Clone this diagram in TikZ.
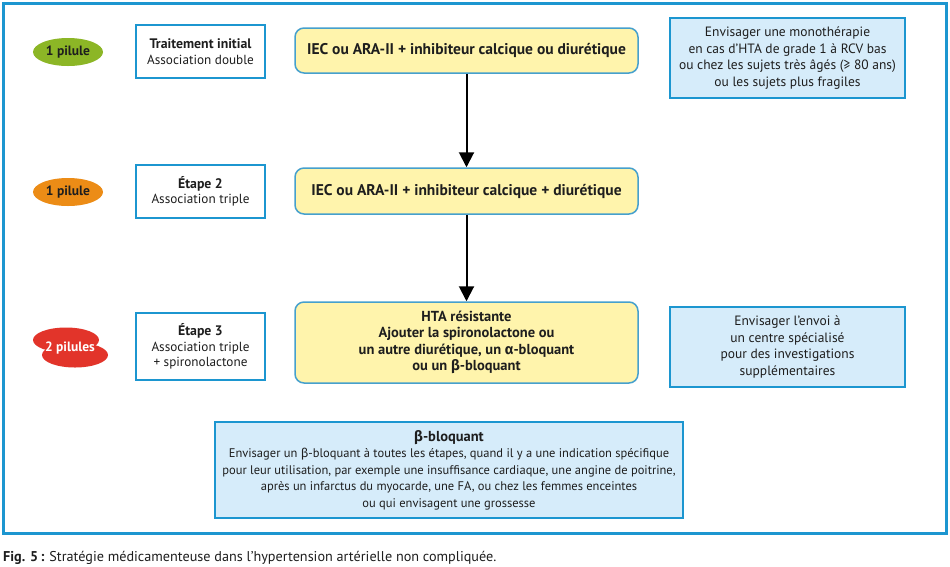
\documentclass[tikz,border=0pt]{standalone}
\usepackage{fontspec}
\setmainfont{PT Sans}
\newfontfamily\grk{Fira Sans}
\usetikzlibrary{shapes.geometric,arrows.meta}
\definecolor{frameblue}{RGB}{28,150,208}
\definecolor{drugedge}{RGB}{70,160,205}
\definecolor{lightblue}{RGB}{214,236,250}
\definecolor{paleyellow}{RGB}{255,244,172}
\definecolor{pillgreen}{RGB}{140,182,38}
\definecolor{pillorange}{RGB}{236,140,22}
\definecolor{pillred}{RGB}{226,52,42}
\definecolor{txt}{RGB}{30,30,30}
\tikzset{
  stagebox/.style={draw=frameblue,line width=2pt,fill=white,minimum width=129pt,align=center,text=txt,font=\fontsize{13.2}{15.5}\selectfont,inner sep=0pt},
  stagetitle/.style={},
  drugbox/.style={draw=drugedge,line width=1.5pt,fill=paleyellow,rounded corners=9pt,minimum width=343pt,align=center,text=txt,font=\bfseries\fontsize{15.5}{16.5}\selectfont,inner sep=0pt},
  notebox/.style={draw=frameblue,line width=2pt,fill=lightblue,align=center,text=txt,font=\fontsize{13.5}{16.7}\selectfont,inner sep=0pt},
  pill/.style={ellipse,minimum width=70pt,minimum height=28pt,inner sep=0pt,font=\bfseries\fontsize{13.5}{15}\selectfont,text=txt},
  flowarrow/.style={line width=2pt,-{Triangle[length=15pt,width=15pt]}}
}
\newcommand{\sttl}[1]{{\bfseries\fontsize{13.8}{15.5}\selectfont #1}}
\begin{document}
\begin{tikzpicture}[x=1pt,y=-1pt]
\useasboundingbox (0,0) rectangle (950,566);
\fill[white] (0,0) rectangle (950,566);
% outer frame
\draw[frameblue,line width=3pt] (3,3) rectangle (946,533);
% row 1
\node[pill,fill=pillgreen] (p1) at (68,52) {1 pilule};
\node[stagebox,minimum height=53pt] (s1) at (200.5,51.5) {\sttl{Traitement initial}\\Association double};
\node[drugbox,minimum height=45pt] (d1) at (466.5,50.5) {IEC ou ARA-II + inhibiteur calcique ou diurétique};
\node[notebox,minimum width=235pt,minimum height=80pt] (n1) at (787.5,58) {Envisager une monothérapie\\en cas d’HTA de grade 1 à RCV bas\\ou chez les sujets très âgés (≥ 80 ans)\\ou les sujets plus fragiles};
% row 2
\node[pill,fill=pillorange] (p2) at (68,192) {1 pilule};
\node[stagebox,minimum height=53pt] (s2) at (200.5,191.5) {\sttl{Étape 2}\\Association triple};
\node[drugbox,minimum height=46pt] (d2) at (466.5,191) {IEC ou ARA-II + inhibiteur calcique + diurétique};
% row 3
\fill[pillred] (66,340) ellipse[x radius=33,y radius=12.5];
\fill[pillred] (75,355) ellipse[x radius=33,y radius=12.5];
\node[font=\bfseries\fontsize{13.5}{15}\selectfont,text=white,inner sep=0pt] (p3) at (70,348) {2 pilules};
\node[stagebox,minimum height=67pt] (s3) at (200.5,346.5) {\sttl{Étape 3}\\Association triple\\+ spironolactone};
\node[drugbox,minimum height=81pt,font=\bfseries\fontsize{14.5}{16.5}\selectfont] (d3) at (466.5,342.5) {HTA résistante\\Ajouter la spironolactone ou\\un autre diurétique, un {\grk\bfseries α}-bloquant\\ou un {\grk\bfseries β}-bloquant};
\node[notebox,minimum width=235pt,minimum height=80pt] (n3) at (787.5,347) {Envisager l’envoi à\\un centre spécialisé\\pour des investigations\\supplémentaires};
% bottom box
\node[notebox,minimum width=468pt,minimum height=96pt,font=\fontsize{12.5}{16.5}\selectfont] (n4) at (449,470) {{\bfseries\fontsize{14.5}{16.5}\selectfont{\grk β}-bloquant}\\Envisager un {\grk β}-bloquant à toutes les étapes, quand il y a une indication spécifique\\pour leur utilisation, par exemple une insuffisance cardiaque, une angine de poitrine,\\après un infarctus du myocarde, une FA, ou chez les femmes enceintes\\ou qui envisagent une grossesse};
% arrows
\draw[flowarrow] (d1.south) -- (d2.north);
\draw[flowarrow] (d2.south) -- (d3.north);
% caption
\node[anchor=west,inner sep=0pt,text=txt,font=\fontsize{14.2}{16}\selectfont] (cap) at (3,558) {\textbf{Fig. 5\,:} Stratégie médicamenteuse dans l’hypertension artérielle non compliquée.};
\end{tikzpicture}
\end{document}
